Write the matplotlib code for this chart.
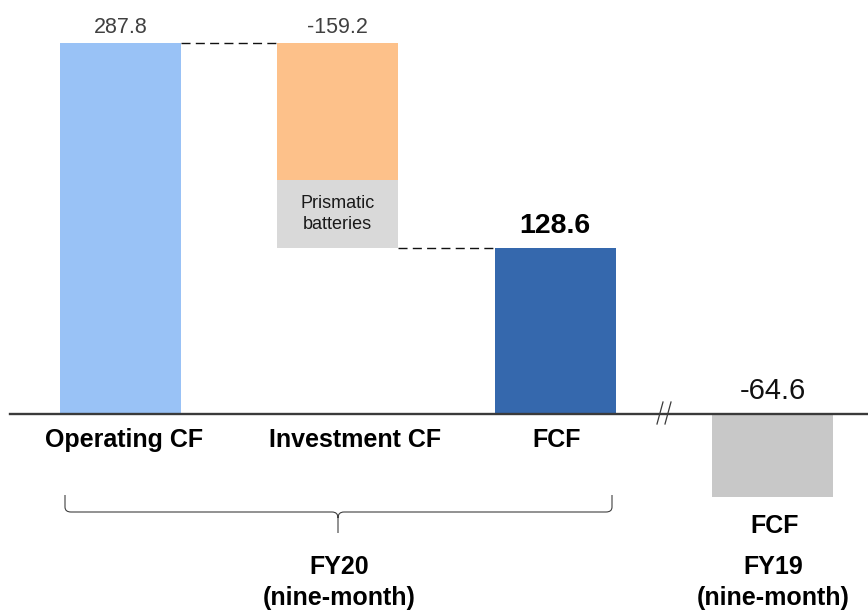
import matplotlib.pyplot as plt
from matplotlib.path import Path
from matplotlib.patches import PathPatch

plt.rcParams['font.family'] = ['Liberation Sans', 'DejaVu Sans']

# cash flow values
categories = ["Operating CF", "Investment CF", "FCF", "FCF"]
operating_cf = 287.8
investment_cf = -159.2
prismatic = -53.0
fcf_fy20 = 128.6
fcf_fy19 = -64.6
period_labels = ["FY20", "FY19"]
period_sub = "(nine-month)"

# layout in pixels (figure is 868 x 610)
W, H = 868, 610
X0, XS = 120.5, 217.33   # centre of first bar, px between bars
Y0, YS = 414.0, 1.289    # baseline from top, px per unit


def to_data(px, py):
    return (px - X0) / XS, (Y0 - py) / YS


fig = plt.figure(figsize=(W / 100, H / 100), dpi=100)
ax = fig.add_axes([0, 0, 1, 1])
ax.set_xlim(to_data(0, 0)[0], to_data(W, 0)[0])
ax.set_ylim(to_data(0, H)[1], to_data(0, 0)[1])
ax.axis("off")

bw = 121 / XS
other_inv = investment_cf - prismatic

# bars
ax.bar(0, operating_cf, width=bw, color="#99C2F6", zorder=2)
ax.bar(1, other_inv, bottom=operating_cf, width=bw, color="#FDC18A", zorder=2)
ax.bar(1, prismatic, bottom=operating_cf + other_inv, width=bw, color="#D9D9D9", zorder=2)
ax.bar(2, fcf_fy20, width=bw, color="#3568AD", zorder=2)
ax.bar(3, fcf_fy19, width=bw, color="#C8C8C8", zorder=2)

# dashed connectors
for x_from, level in [(0, operating_cf), (1, operating_cf + investment_cf)]:
    ln, = ax.plot([x_from + bw / 2, x_from + 1 - bw / 2], [level, level],
                  color="#111111", lw=1.0, zorder=1)
    ln.set_dashes([6.5, 3.8])

# baseline
ax.axhline(0, xmin=10 / W, xmax=1, color="#3a3a3a", lw=1.7, zorder=3)

# break marks on baseline
for bx in (657, 665):
    (xa, ya), (xb, yb) = to_data(bx, 424), to_data(bx + 6, 402)
    ax.plot([xa, xb], [ya, yb], color="#3a3a3a", lw=0.9, zorder=4)

# value labels
ax.annotate(f"{operating_cf:.1f}", (0, operating_cf), xytext=(0, 10),
            textcoords="offset pixels", ha="center", va="baseline",
            fontsize=15.5, color="#404040")
ax.annotate(f"{investment_cf:.1f}", (1, operating_cf), xytext=(0, 10),
            textcoords="offset pixels", ha="center", va="baseline",
            fontsize=15.5, color="#404040")
ax.annotate(f"{fcf_fy20:.1f}", (2, fcf_fy20), xytext=(0, 15),
            textcoords="offset pixels", ha="center", va="baseline",
            fontsize=20.5, fontweight="bold", color="black")
ax.annotate(f"{fcf_fy19:.1f}", (3, 0), xytext=(0, 15),
            textcoords="offset pixels", ha="center", va="baseline",
            fontsize=21, color="#111111")

ax.text(1, operating_cf + other_inv + prismatic / 2, "Prismatic\nbatteries",
        ha="center", va="center", fontsize=13, color="#1a1a1a", linespacing=1.25)

# category labels
label_dx = [4, 17, 1, 2]
label_dy = [-33, -33, -33, -119]
for i, name in enumerate(categories):
    ax.annotate(name, (i, 0), xytext=(label_dx[i], label_dy[i]),
                textcoords="offset pixels", ha="center", va="baseline",
                fontsize=18, fontweight="bold", color="black")

# period labels
for xi, per in zip([1, 3], period_labels):
    ax.annotate(per, (xi, 0), xytext=(1, -160), textcoords="offset pixels",
                ha="center", va="baseline", fontsize=18, fontweight="bold")
    ax.annotate(period_sub, (xi, 0), xytext=(1, -191), textcoords="offset pixels",
                ha="center", va="baseline", fontsize=18, fontweight="bold")

# brace under the FY20 group
pts = [(65, 495), (65, 507), (65, 512), (71, 512), (332, 512), (338, 512), (338, 518),
       (338, 533), (338, 518), (338, 512), (344, 512), (606, 512), (612, 512),
       (612, 507), (612, 495)]
codes = [Path.MOVETO, Path.LINETO, Path.CURVE3, Path.CURVE3, Path.LINETO,
         Path.CURVE3, Path.CURVE3, Path.LINETO, Path.MOVETO, Path.CURVE3,
         Path.CURVE3, Path.LINETO, Path.CURVE3, Path.CURVE3, Path.LINETO]
brace = Path([to_data(*p) for p in pts], codes)
ax.add_patch(PathPatch(brace, fill=False, edgecolor="#404040", lw=0.8))

fig.savefig("out.png", dpi=100)
